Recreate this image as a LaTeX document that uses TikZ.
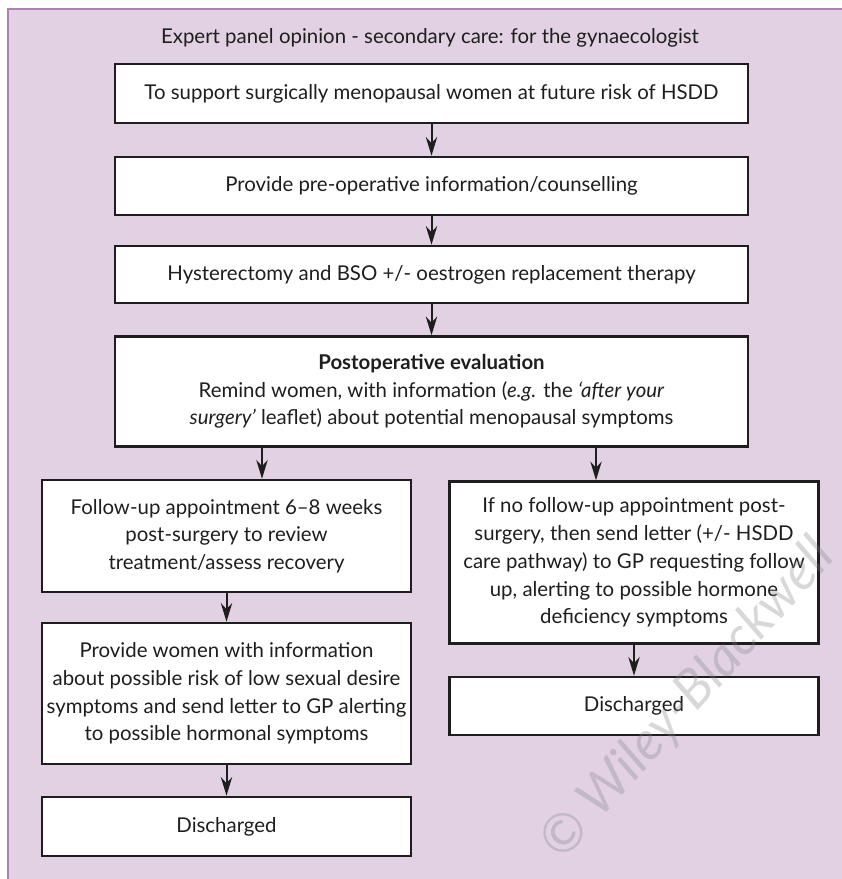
\documentclass[tikz,border=0pt]{standalone}
\usepackage{fontspec}
\setmainfont{Lato}
\usetikzlibrary{arrows.meta,calc}

\definecolor{panelbg}{RGB}{225,209,227}
\definecolor{panelrule}{RGB}{176,128,178}
\definecolor{boxrule}{RGB}{30,30,30}

\begin{document}
\begin{tikzpicture}[x=0.75pt, y=-0.75pt,
    txt/.style={font=\fontsize{15.3}{20.8}\selectfont, text=boxrule},
    box/.style={txt, draw=boxrule, line width=1.9pt, fill=white, align=center, inner sep=0pt},
    wide/.style={box, minimum width=474.75pt},
    half/.style={box, minimum width=276.5pt},
    arr/.style={draw=boxrule, line width=1.5pt, -{Stealth[length=14pt, width=8.5pt]}}]

\useasboundingbox (0,0) rectangle (842,879);
% panel
\fill[panelbg, draw=panelrule, line width=0.8pt] (8,9) rectangle (850,890);

\node[txt] (title) at (430,38) {Expert panel opinion - secondary care: for the gynaecologist};

% main column
\node[wide, minimum height=44.25pt] (b1) at (431.5,93.5)
    {To support surgically menopausal women at future risk of HSDD};
\node[wide, minimum height=43.5pt] (b2) at (431.5,186)
    {Provide pre-operative information/counselling};
\node[wide, minimum height=42.75pt] (b3) at (431.5,274.5)
    {Hysterectomy and BSO +/- oestrogen replacement therapy};
\node[wide, minimum height=82.5pt] (b4) at (431.5,391.5)
    {\textbf{Postoperative evaluation}\\
     Remind women, with information (\textit{e.g.} the \textit{‘after your}\\
     \textit{surgery’} leaflet) about potential menopausal symptoms};

% left branch
\node[half, minimum height=84pt] (b5) at (226.5,536)
    {Follow-up appointment 6--8 weeks\\ post-surgery to review\\ treatment/assess recovery};
\node[half, minimum height=105.75pt] (b6) at (226.5,693.5)
    {Provide women with information\\ about possible risk of low sexual desire\\
     symptoms and send letter to GP alerting\\ to possible hormonal symptoms};
\node[half, minimum height=44.25pt] (b9) at (226.5,826.5) {Discharged};

% right branch
\node[half, minimum height=121.5pt] (b7) at (634,562.5)
    {If no follow-up appointment post-\\ surgery, then send letter (+/- HSDD\\
     care pathway) to GP requesting follow\\ up, alerting to possible hormone\\
     deficiency symptoms};
\node[half, minimum height=43.5pt] (b8) at (634,706) {Discharged};

% arrows
\coordinate (lt) at ($(b5.north)+(35.5,0)$);
\coordinate (rt) at ($(b7.north)+(-38,0)$);
\draw[arr] (b1) -- (b2);
\draw[arr] (b2) -- (b3);
\draw[arr] (b3) -- (b4);
\draw[arr] (b4.south -| lt) -- (lt);
\draw[arr] (b4.south -| rt) -- (rt);
\draw[arr] (b5) -- (b6);
\draw[arr] (b6) -- (b9);
\draw[arr] (b7) -- (b8);

% watermark
\node[rotate=48, text=gray, opacity=0.3, font=\fontsize{40}{40}\selectfont\itshape] (wm) at (688,700)
    {© Wiley-Blackwell};
\end{tikzpicture}
\end{document}
